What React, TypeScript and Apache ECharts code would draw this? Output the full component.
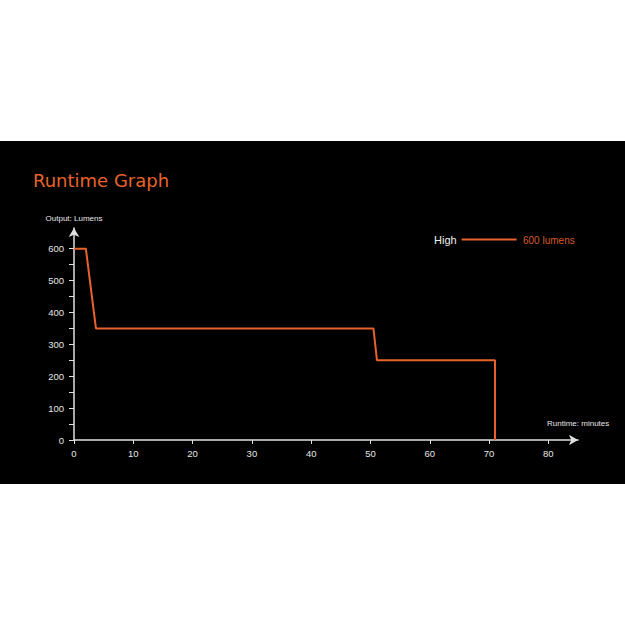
import React, { useEffect, useRef } from "react";
import * as echarts from "echarts";

const runtimeMinutes = [0, 2, 3.7, 50.5, 51.1, 71, 71];
const outputLumens = [600, 600, 350, 350, 250, 250, 0];
const xTicks = [0, 10, 20, 30, 40, 50, 60, 70, 80];
const yTicks = [0, 50, 100, 150, 200, 250, 300, 350, 400, 450, 500, 550, 600];
const yLabels = [0, 100, 200, 300, 400, 500, 600];
const seriesName = "High";
const legendNote = "600 lumens";
const titleText = "Runtime Graph";
const xName = "Runtime: minutes";
const yName = "Output: Lumens";

const ORANGE = "#e8632b";
const AXIS = "#e0e0e0";
const FONT = "'Liberation Sans', Arial, sans-serif";

export default function App() {
  const ref = useRef<HTMLDivElement>(null);
  useEffect(() => {
    if (!ref.current) return;
    const chart = echarts.init(ref.current, undefined, { renderer: "svg" });
    chart.setOption({
      animation: false,
      backgroundColor: "#ffffff",
      textStyle: { fontFamily: FONT },
      graphic: [
        {
          type: "rect",
          z: -10,
          shape: { x: 0, y: 141, width: 625, height: 343 },
          style: { fill: "#000000" },
        },
        {
          type: "text",
          left: 523,
          top: 235,
          style: { text: legendNote, fill: "#d65a2a", fontSize: 10, fontFamily: FONT },
        },
      ],
      title: {
        text: titleText,
        left: 28,
        top: 166,
        textStyle: { color: ORANGE, fontSize: 18, fontWeight: "normal", fontFamily: "'DejaVu Sans', sans-serif" },
      },
      legend: {
        left: 429,
        top: 229,
        align: "right",
        icon: "rect",
        itemWidth: 55,
        itemHeight: 2,
        textStyle: { color: "#f0f0f0", fontSize: 11, fontFamily: FONT },
        data: [seriesName],
      },
      grid: { left: 74, right: 47, top: 228, bottom: 185, containLabel: false },
      xAxis: {
        type: "value",
        min: 0,
        max: 85,
        interval: 10,
        name: xName,
        nameLocation: "end",
        nameGap: -31,
        nameTextStyle: { color: "#e6e6e6", fontSize: 8, verticalAlign: "bottom", padding: [0, 0, 13, 0] },
        axisLine: {
          lineStyle: { color: AXIS, width: 1.5 },
          symbol: ["none", "arrow"],
          symbolSize: [8, 9],
        },
        axisTick: { show: true, length: 4, lineStyle: { color: AXIS }, customValues: xTicks },
        axisLabel: { color: "#e6e6e6", fontSize: 9.5, margin: 8, customValues: xTicks },
        splitLine: { show: false },
      },
      yAxis: {
        type: "value",
        min: 0,
        max: 665,
        interval: 50,
        name: yName,
        nameLocation: "end",
        nameGap: 6,
        nameTextStyle: { color: "#e6e6e6", fontSize: 8, align: "center" },
        axisLine: {
          show: true,
          lineStyle: { color: AXIS, width: 1.5 },
          symbol: ["none", "arrow"],
          symbolSize: [8, 9],
        },
        axisTick: { show: true, length: 5, lineStyle: { color: AXIS }, customValues: yTicks },
        axisLabel: { color: "#e6e6e6", fontSize: 9.5, margin: 10, customValues: yLabels },
        splitLine: { show: false },
      },
      series: [
        {
          name: seriesName,
          type: "line",
          data: runtimeMinutes.map((t, i) => [t, outputLumens[i]]),
          showSymbol: false,
          lineStyle: { color: ORANGE, width: 2 },
          itemStyle: { color: ORANGE },
        },
      ],
    });
    return () => chart.dispose();
  }, []);
  return (
    <div style={{ position: "fixed", left: 0, top: 0, width: 625, height: 625, background: "#fff" }}>
      <div ref={ref} style={{ width: 625, height: 625 }} />
    </div>
  );
}
